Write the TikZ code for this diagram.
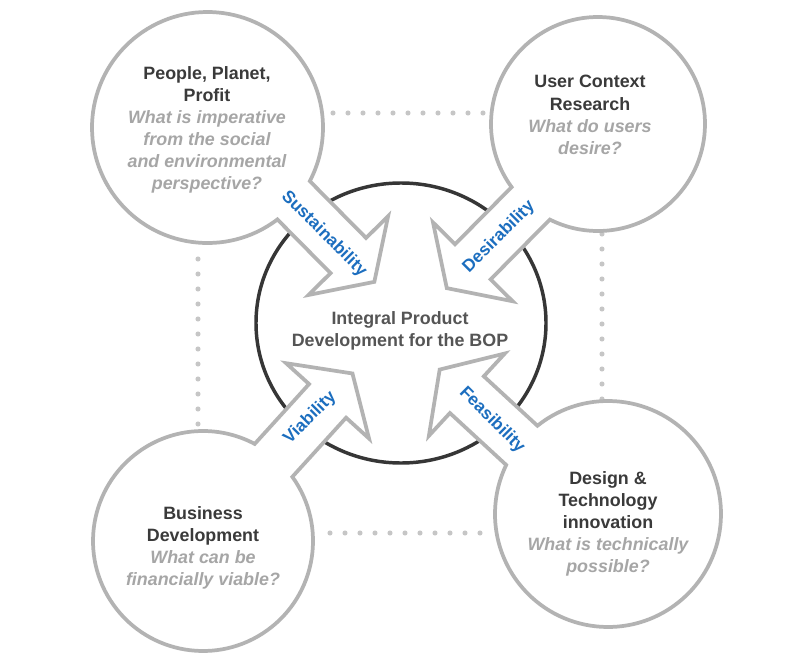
\documentclass[tikz,border=0pt]{standalone}
\usepackage{fontspec}
\setmainfont{Liberation Sans}
\usetikzlibrary{calc}
\definecolor{sketch}{HTML}{B3B3B3}
\definecolor{ring}{HTML}{363636}
\definecolor{titlec}{HTML}{3A3A3A}
\definecolor{askc}{HTML}{A6A6A6}
\definecolor{labelc}{HTML}{1C6EBF}
\definecolor{dotc}{HTML}{C6C6C6}
\definecolor{centc}{HTML}{555555}
\newcommand\askq[1]{\textcolor{askc}{\itshape #1}}
\begin{document}
\begin{tikzpicture}[x=0.75pt,y=0.75pt,
  bubble/.style={fill=white, draw=sketch, line width=2.8pt, line join=miter},
  ringstyle/.style={draw=ring, line width=2.6pt},
  dotline/.style={draw=dotc, line width=3.8pt, line cap=round, dash pattern=on 0pt off 11.25pt},
  txt/.style={font=\bfseries\fontsize{13.4}{16.6}\selectfont, text=titlec, align=center, inner sep=0pt},
  centtxt/.style={txt, text=centc},
  lbl/.style={font=\bfseries\fontsize{13}{15}\selectfont, text=labelc, inner sep=0pt}]
\fill[white] (0,0) rectangle (796,-660);
\useasboundingbox (0,0) rectangle (796,-660);
\coordinate (C) at (401,-323);
% dotted connectors
\coordinate (dta) at (333,-113); \coordinate (dtb) at (485,-113);
\coordinate (dla) at (198,-259); \coordinate (dlb) at (198,-426);
\coordinate (dra) at (602,-234); \coordinate (drb) at (602,-401);
\coordinate (dba) at (330,-533); \coordinate (dbb) at (482,-533);
\draw[dotline] (dta) -- (dtb);
\draw[dotline] (dla) -- (dlb);
\draw[dotline] (dra) -- (drb);
\draw[dotline] (dba) -- (dbb);
% central ring
\draw[ringstyle] (C) ellipse [x radius=145, y radius=140];
% four bubbles with arrows
\foreach \ox/\oy/\rr/\tipd/\shf in {207.5/127.5/115.5/48/-10, 598/124/107/57/-8, 203/541/110/70/-2, 608/514/113/60/-8}{
  \pgfmathsetmacro\dd{veclen(401-\ox,323-\oy)}
  \pgfmathsetmacro\uux{(401-\ox)/\dd}
  \pgfmathsetmacro\uuy{(323-\oy)/\dd}
  \pgfmathsetmacro\thh{atan2(\uuy,\uux)}
  \pgfmathsetmacro\pp{\shf+25}
  \pgfmathsetmacro\pm{\shf-25}
  \pgfmathsetmacro\hp{\shf+56}
  \pgfmathsetmacro\hm{\shf-56}
  \pgfmathsetmacro\app{sqrt(\rr*\rr-\pp*\pp)}
  \pgfmathsetmacro\amm{sqrt(\rr*\rr-\pm*\pm)}
  \pgfmathsetmacro\php{\thh+atan2(\pp,\app)}
  \pgfmathsetmacro\phm{\thh+atan2(\pm,\amm)}
  \pgfmathsetmacro\bse{\dd-\tipd-37}
  \pgfmathsetmacro\tpa{\dd-\tipd}
  \coordinate (jp) at ({\ox+\app*\uux-\pp*\uuy},{-(\oy+\app*\uuy+\pp*\uux)});
  \coordinate (sm) at ({\ox+\bse*\uux-\pm*\uuy},{-(\oy+\bse*\uuy+\pm*\uux)});
  \coordinate (wm) at ({\ox+\bse*\uux-\hm*\uuy},{-(\oy+\bse*\uuy+\hm*\uux)});
  \coordinate (tp) at ({\ox+\tpa*\uux-\shf*\uuy},{-(\oy+\tpa*\uuy+\shf*\uux)});
  \coordinate (wp) at ({\ox+\bse*\uux-\hp*\uuy},{-(\oy+\bse*\uuy+\hp*\uux)});
  \coordinate (sp) at ({\ox+\bse*\uux-\pp*\uuy},{-(\oy+\bse*\uuy+\pp*\uux)});
  \path[bubble] (jp) arc[start angle={-\php}, end angle={-\phm-360}, radius=\rr]
    -- (sm) -- (wm) -- (tp) -- (wp) -- (sp) -- cycle;
}
% texts
\node[txt] (ppp) at (207,-130) {People, Planet,\\Profit\\\askq{What is imperative}\\\askq{from the social}\\\askq{and environmental}\\\askq{perspective?}};
\node[txt] (ucr) at (590,-115) {User Context\\Research\\\askq{What do users}\\\askq{desire?}};
\node[txt] (bd) at (203,-548) {Business\\Development\\\askq{What can be}\\\askq{financially viable?}};
\node[txt] (dti) at (608,-524) {Design \&\\Technology\\innovation\\\askq{What is technically}\\\askq{possible?}};
\node[centtxt] (ipd) at (400,-331) {Integral Product\\Development for the BOP};
% arrow labels
\node[lbl, rotate=-45] (lsus) at (324,-234) {Sustainability};
\node[lbl, rotate=45] (ldes) at (499,-237) {Desirability};
\node[lbl, rotate=45] (lvia) at (310,-418) {Viability};
\node[lbl, rotate=-45] (lfea) at (492,-420) {Feasibility};
\end{tikzpicture}
\end{document}
